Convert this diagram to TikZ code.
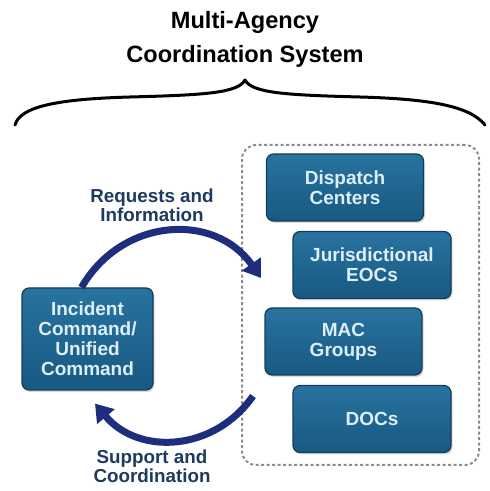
\documentclass[tikz,border=0pt]{standalone}
\usepackage{fontspec}
\setmainfont{Liberation Sans}
\usepackage{tikz}
\usetikzlibrary{calc, fit, positioning, arrows.meta, shadows}
\definecolor{boxtop}{HTML}{28739F}
\definecolor{boxbottom}{HTML}{185982}
\definecolor{boxedge}{HTML}{143C5A}
\definecolor{boxtext}{HTML}{DCEEF7}
\definecolor{flownavy}{HTML}{1F2D7D}
\definecolor{labelnavy}{HTML}{1E3A5F}
\tikzstyle{agency}    = [rectangle, rounded corners=7pt, draw=boxedge, line width=1.2pt, top color=boxtop, bottom color=boxbottom, text=boxtext, font=\fontsize{19}{20}\selectfont\bfseries, align=center, minimum width=157pt, minimum height=67pt, drop shadow={shadow xshift=1.5pt, shadow yshift=-2pt, opacity=0.3}]
\tikzstyle{group}     = [rectangle, rounded corners=14pt, draw=black!45, line width=2pt, dash pattern=on 3pt off 2.5pt]
\tikzstyle{flow}      = [line width=7pt, draw=flownavy, -{Triangle[length=17pt,width=22pt]}]
\tikzstyle{flowlabel} = [text=labelnavy, font=\fontsize{18.8}{19}\selectfont\bfseries, align=center]
\tikzstyle{brace}     = [line width=3pt, line cap=round, line join=round]

\begin{document}
\begin{tikzpicture}[x=1pt, y=1pt]
  \useasboundingbox (0,0) rectangle (490,491);
  \node[font=\fontsize{23.6}{34}\selectfont\bfseries, align=center] (title) at (245,452) {Multi-Agency\\Coordination System};
  \coordinate (braceL) at (15,366);
  \coordinate (braceR) at (485,366);
  \coordinate (braceTip) at (245,411);
  \draw[brace] (braceL) .. controls (20,385) and (60,392) .. (130,394) .. controls (205,396) and (238,398) .. (braceTip)
    .. controls (252,398) and (285,396) .. (360,394) .. controls (430,392) and (470,385) .. (braceR);
  % agencies
  \node[group, minimum width=237pt, minimum height=320pt] (grp) at (360.5,186) {};
  \node[agency] (disp) at (345,303.5) {Dispatch\\Centers};
  \node[agency, minimum width=158pt] (juris) at (372,226) {Jurisdictional\\EOCs};
  \node[agency] (mac) at (343.5,149.5) {MAC\\Groups};
  \node[agency, minimum width=158pt] (docs) at (372,72) {DOCs};
  \node[agency, minimum width=131pt, minimum height=102pt] (ic) at (87.5,152) {Incident\\Command/\\Unified\\Command};
  % flows
  \coordinate (reqend) at ([xshift=20pt,yshift=27pt]grp.west);
  \coordinate (suppstart) at ([xshift=12pt,yshift=-91pt]grp.west);
  \draw[flow] ([xshift=-6pt]ic.north) to[out=60, in=125, looseness=1.15] (reqend);
  \draw[flow] (suppstart) to[out=-125, in=-50, looseness=1.1] ([xshift=7.5pt,yshift=-13pt]ic.south);
  \node[flowlabel] (req) at (152,286) {Requests and\\Information};
  \node[flowlabel] (supp) at (152,25) {Support and\\Coordination};
\end{tikzpicture}
\end{document}
